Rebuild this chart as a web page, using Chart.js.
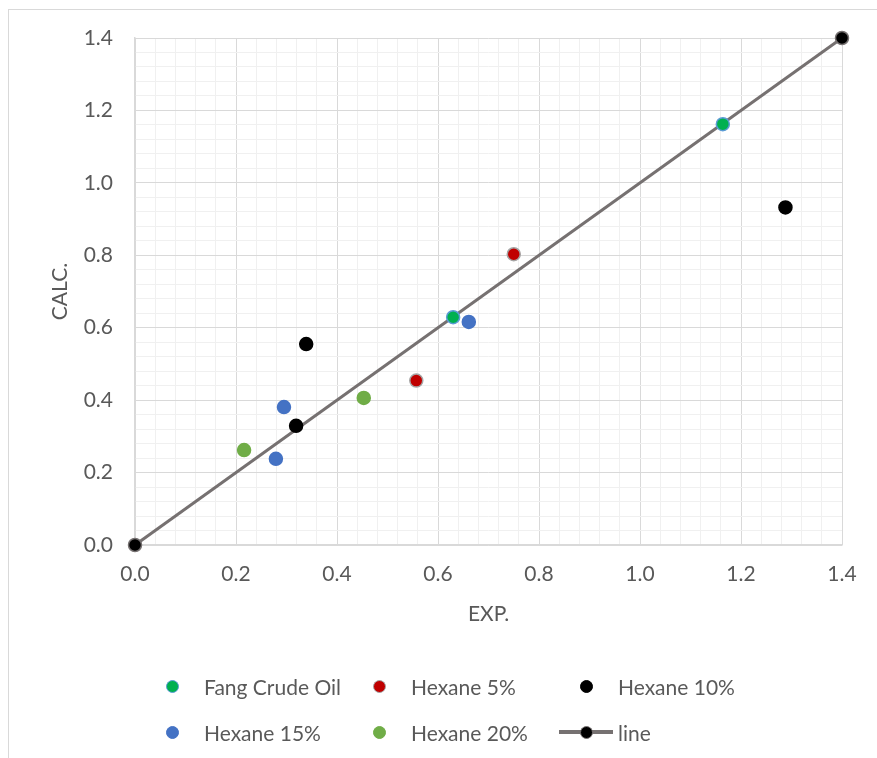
<!DOCTYPE html>
<html lang="en">
<head>
    <meta charset="UTF-8">
    <title>EXP. vs CALC.</title>
    <script src="https://cdn.jsdelivr.net/npm/chart.js"></script>
    <style>
        body, html { margin: 0; padding: 0; background: #fff; }
        #wrap { position: relative; width: 877px; height: 758px; overflow: hidden; }
        #frame {
            position: absolute; left: 8px; top: 9px; width: 900px; height: 800px;
            border: 1.5px solid #d9d9d9; box-sizing: border-box;
        }
        #chart { position: absolute; left: 0; top: 0; }
        .leg-item {
            position: absolute; height: 24px; display: flex; align-items: center;
            font-family: Lato, sans-serif; font-size: 21px; color: #595959; white-space: nowrap;
        }
        .leg-sym { position: relative; width: 54px; height: 24px; margin-right: 5px; }
        .leg-bar { position: absolute; left: 0; right: 0; top: 10px; height: 4px; }
        .leg-dot {
            position: absolute; left: 20.5px; top: 5.5px; width: 13px; height: 13px;
            border-radius: 50%; box-sizing: border-box;
        }
    </style>
</head>
<body>
<div id="wrap">
    <div id="frame"></div>
    <canvas id="chart" width="877" height="758"></canvas>
    <div id="legend"></div>
</div>
<script>
    // values (EXP. on x, CALC. on y)
    var fangExp   = [1.164, 0.630];
    var fangCalc  = [1.162, 0.629];
    var hex5Exp   = [0.557, 0.750];
    var hex5Calc  = [0.454, 0.803];
    var hex10Exp  = [0.339, 0.319, 1.288];
    var hex10Calc = [0.555, 0.329, 0.932];
    var hex15Exp  = [0.295, 0.279, 0.661];
    var hex15Calc = [0.381, 0.238, 0.616];
    var hex20Exp  = [0.216, 0.453];
    var hex20Calc = [0.262, 0.406];
    var lineExp   = [0, 1.4];
    var lineCalc  = [0, 1.4];

    var axisMin = 0, axisMax = 1.4, minorStep = 0.04;

    function pts(xs, ys) {
        return xs.map(function(x, i) { return { x: x, y: ys[i] }; });
    }

    var series = [
        { label: 'Fang Crude Oil', data: pts(fangExp, fangCalc),   fill: '#00b050', edge: '#5b9bd5' },
        { label: 'Hexane 5%',      data: pts(hex5Exp, hex5Calc),   fill: '#c00000', edge: '#a5a5a5' },
        { label: 'Hexane 10%',     data: pts(hex10Exp, hex10Calc), fill: '#000000', edge: '#000000' },
        { label: 'Hexane 15%',     data: pts(hex15Exp, hex15Calc), fill: '#4472c4', edge: '#4472c4' },
        { label: 'Hexane 20%',     data: pts(hex20Exp, hex20Calc), fill: '#70ad47', edge: '#70ad47' },
        { label: 'line',           data: pts(lineExp, lineCalc),   fill: '#000000', edge: '#767171', line: '#767171' }
    ];

    var datasets = series.map(function(s) {
        return {
            label: s.label,
            data: s.data,
            showLine: !!s.line,
            borderColor: s.line || s.edge,
            borderWidth: 3,
            pointRadius: 6.5,
            pointHoverRadius: 6.5,
            pointBackgroundColor: s.fill,
            pointBorderColor: s.edge,
            pointBorderWidth: 1.5,
            clip: false
        };
    });

    Chart.defaults.font.family = 'Lato, sans-serif';
    Chart.defaults.font.size = 21;
    Chart.defaults.color = '#595959';

    function gridColor(ctx) {
        return ctx.index % 5 === 0 ? '#d9d9d9' : '#f0f0f0';
    }
    function tickLabel(v, i) {
        return i % 5 === 0 ? v.toFixed(1) : '';
    }

    new Chart(document.getElementById('chart'), {
        type: 'scatter',
        data: { datasets: datasets },
        options: {
            responsive: false,
            animation: false,
            layout: { padding: { left: 44, top: 38, right: 35, bottom: 127 } },
            plugins: { legend: { display: false }, tooltip: { enabled: false } },
            scales: {
                x: {
                    min: axisMin, max: axisMax,
                    afterFit: function(scale) { scale.height = 86; },
                    ticks: { stepSize: minorStep, maxTicksLimit: 100, autoSkip: false, maxRotation: 0, padding: 17, callback: tickLabel },
                    grid: { color: gridColor, drawTicks: false, lineWidth: 1 },
                    border: { color: '#d9d9d9', width: 1.5 },
                    title: { display: true, text: 'EXP.' }
                },
                y: {
                    min: axisMin, max: axisMax,
                    afterFit: function(scale) { scale.width = 91; },
                    ticks: { stepSize: minorStep, maxTicksLimit: 100, autoSkip: false, padding: 22, callback: tickLabel },
                    grid: { color: gridColor, drawTicks: false, lineWidth: 1 },
                    border: { color: '#d9d9d9', width: 1.5 },
                    title: { display: true, text: 'CALC.' }
                }
            }
        }
    });

    // legend: 3 columns x 2 rows below the plot
    var legend = document.getElementById('legend');
    series.forEach(function(s, i) {
        var col = i % 3, row = Math.floor(i / 3);
        var item = document.createElement('div');
        item.className = 'leg-item';
        item.style.left = (145 + col * 207) + 'px';
        item.style.top = (674 + row * 46) + 'px';
        var sym = document.createElement('div');
        sym.className = 'leg-sym';
        if (s.line) {
            var bar = document.createElement('div');
            bar.className = 'leg-bar';
            bar.style.background = s.line;
            sym.appendChild(bar);
        }
        var dot = document.createElement('div');
        dot.className = 'leg-dot';
        dot.style.background = s.fill;
        dot.style.border = '1.5px solid ' + s.edge;
        sym.appendChild(dot);
        item.appendChild(sym);
        var txt = document.createElement('span');
        txt.textContent = s.label;
        item.appendChild(txt);
        legend.appendChild(item);
    });
</script>
</body>
</html>
